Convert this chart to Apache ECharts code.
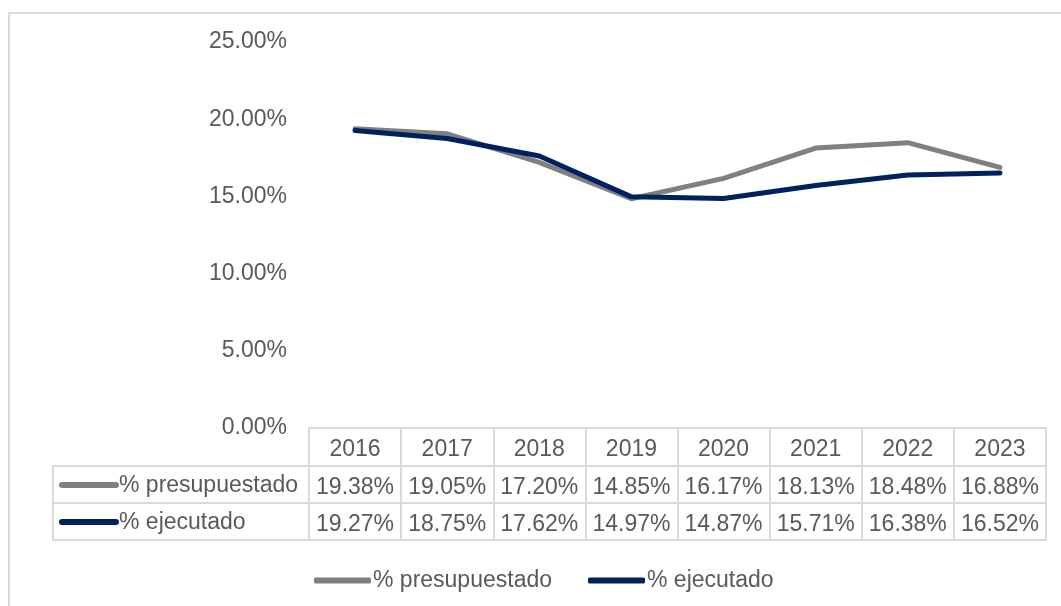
<!DOCTYPE html>
<html>
<head>
<meta charset="utf-8">
<script src="https://cdn.jsdelivr.net/npm/echarts@6/dist/echarts.min.js"></script>
<style>
  html, body { margin: 0; padding: 0; background: #ffffff; }
  #chart { width: 1061px; height: 606px; }
</style>
</head>
<body>
<div id="chart"></div>
<script>
const years = ['2016', '2017', '2018', '2019', '2020', '2021', '2022', '2023'];
const seriesNames = ['% presupuestado', '% ejecutado'];
const presupuestado = [19.38, 19.05, 17.20, 14.85, 16.17, 18.13, 18.48, 16.88];
const ejecutado = [19.27, 18.75, 17.62, 14.97, 14.87, 15.71, 16.38, 16.52];
const yTicks = [0, 5, 10, 15, 20, 25];

const colors = ['#808080', '#002060'];
const textColor = '#595959';
const borderColor = '#d9d9d9';
const font = "'Liberation Sans', Arial, sans-serif";
const fs = 23;
const fmt = v => v.toFixed(2) + '%';

const chart = echarts.init(document.getElementById('chart'));

const baseX = {
  type: 'category',
  position: 'bottom',
  boundaryGap: true,
  axisLine: { show: true, lineStyle: { color: borderColor, width: 2 } },
  axisTick: { show: false },
  splitLine: { show: false },
  axisLabel: { margin: 10, fontSize: fs, color: textColor, fontFamily: font, interval: 0 }
};

chart.setOption({
  animation: false,
  backgroundColor: '#ffffff',
  textStyle: { fontFamily: font },
  grid: { left: 309, right: 15, top: 42, height: 386, containLabel: false },
  legend: {
    left: 309, top: 564,
    icon: 'roundRect', itemWidth: 57, itemHeight: 6, itemGap: 36,
    textStyle: { fontSize: fs, color: textColor, fontFamily: font, padding: [0, 0, 0, -3] },
    data: seriesNames
  },
  xAxis: [
    Object.assign({}, baseX, {
      data: years,
      axisTick: { show: true, length: 112, inside: false, alignWithLabel: false, lineStyle: { color: borderColor, width: 2 } }
    }),
    Object.assign({}, baseX, { data: presupuestado.map(fmt), offset: 38 }),
    Object.assign({}, baseX, { data: ejecutado.map(fmt), offset: 75 }),
    Object.assign({}, baseX, { data: years, offset: 112, axisLabel: { show: false } })
  ],
  yAxis: {
    type: 'value',
    min: yTicks[0], max: yTicks[yTicks.length - 1], interval: 5,
    axisLine: { show: false }, axisTick: { show: false }, splitLine: { show: false },
    axisLabel: { formatter: fmt, fontSize: fs, color: textColor, margin: 22, fontFamily: font, padding: [5, 0, 0, 0] }
  },
  graphic: [
    { type: 'rect', shape: { x: 9, y: 13, width: 1070, height: 620 }, style: { fill: 'none', stroke: borderColor, lineWidth: 2 }, silent: true },
    { type: 'rect', shape: { x: 53, y: 466, width: 256, height: 74 }, style: { fill: 'none', stroke: borderColor, lineWidth: 2 }, silent: true },
    { type: 'line', shape: { x1: 53, y1: 503, x2: 309, y2: 503 }, style: { stroke: borderColor, lineWidth: 2 }, silent: true },
    { type: 'line', shape: { x1: 62, y1: 485, x2: 116, y2: 485 }, style: { stroke: colors[0], lineWidth: 6, lineCap: 'round' }, silent: true },
    { type: 'text', x: 119, y: 486, style: { text: seriesNames[0], fill: textColor, fontSize: fs, fontFamily: font, verticalAlign: 'middle' }, silent: true },
    { type: 'line', shape: { x1: 62, y1: 522, x2: 116, y2: 522 }, style: { stroke: colors[1], lineWidth: 6, lineCap: 'round' }, silent: true },
    { type: 'text', x: 119, y: 523, style: { text: seriesNames[1], fill: textColor, fontSize: fs, fontFamily: font, verticalAlign: 'middle' }, silent: true }
  ],
  series: [
    {
      name: seriesNames[0], type: 'line', xAxisIndex: 0, data: presupuestado,
      color: colors[0], symbol: 'none',
      lineStyle: { width: 5, color: colors[0], cap: 'round', join: 'round' }
    },
    {
      name: seriesNames[1], type: 'line', xAxisIndex: 0, data: ejecutado,
      color: colors[1], symbol: 'none',
      lineStyle: { width: 5, color: colors[1], cap: 'round', join: 'round' }
    }
  ]
});
</script>
</body>
</html>
